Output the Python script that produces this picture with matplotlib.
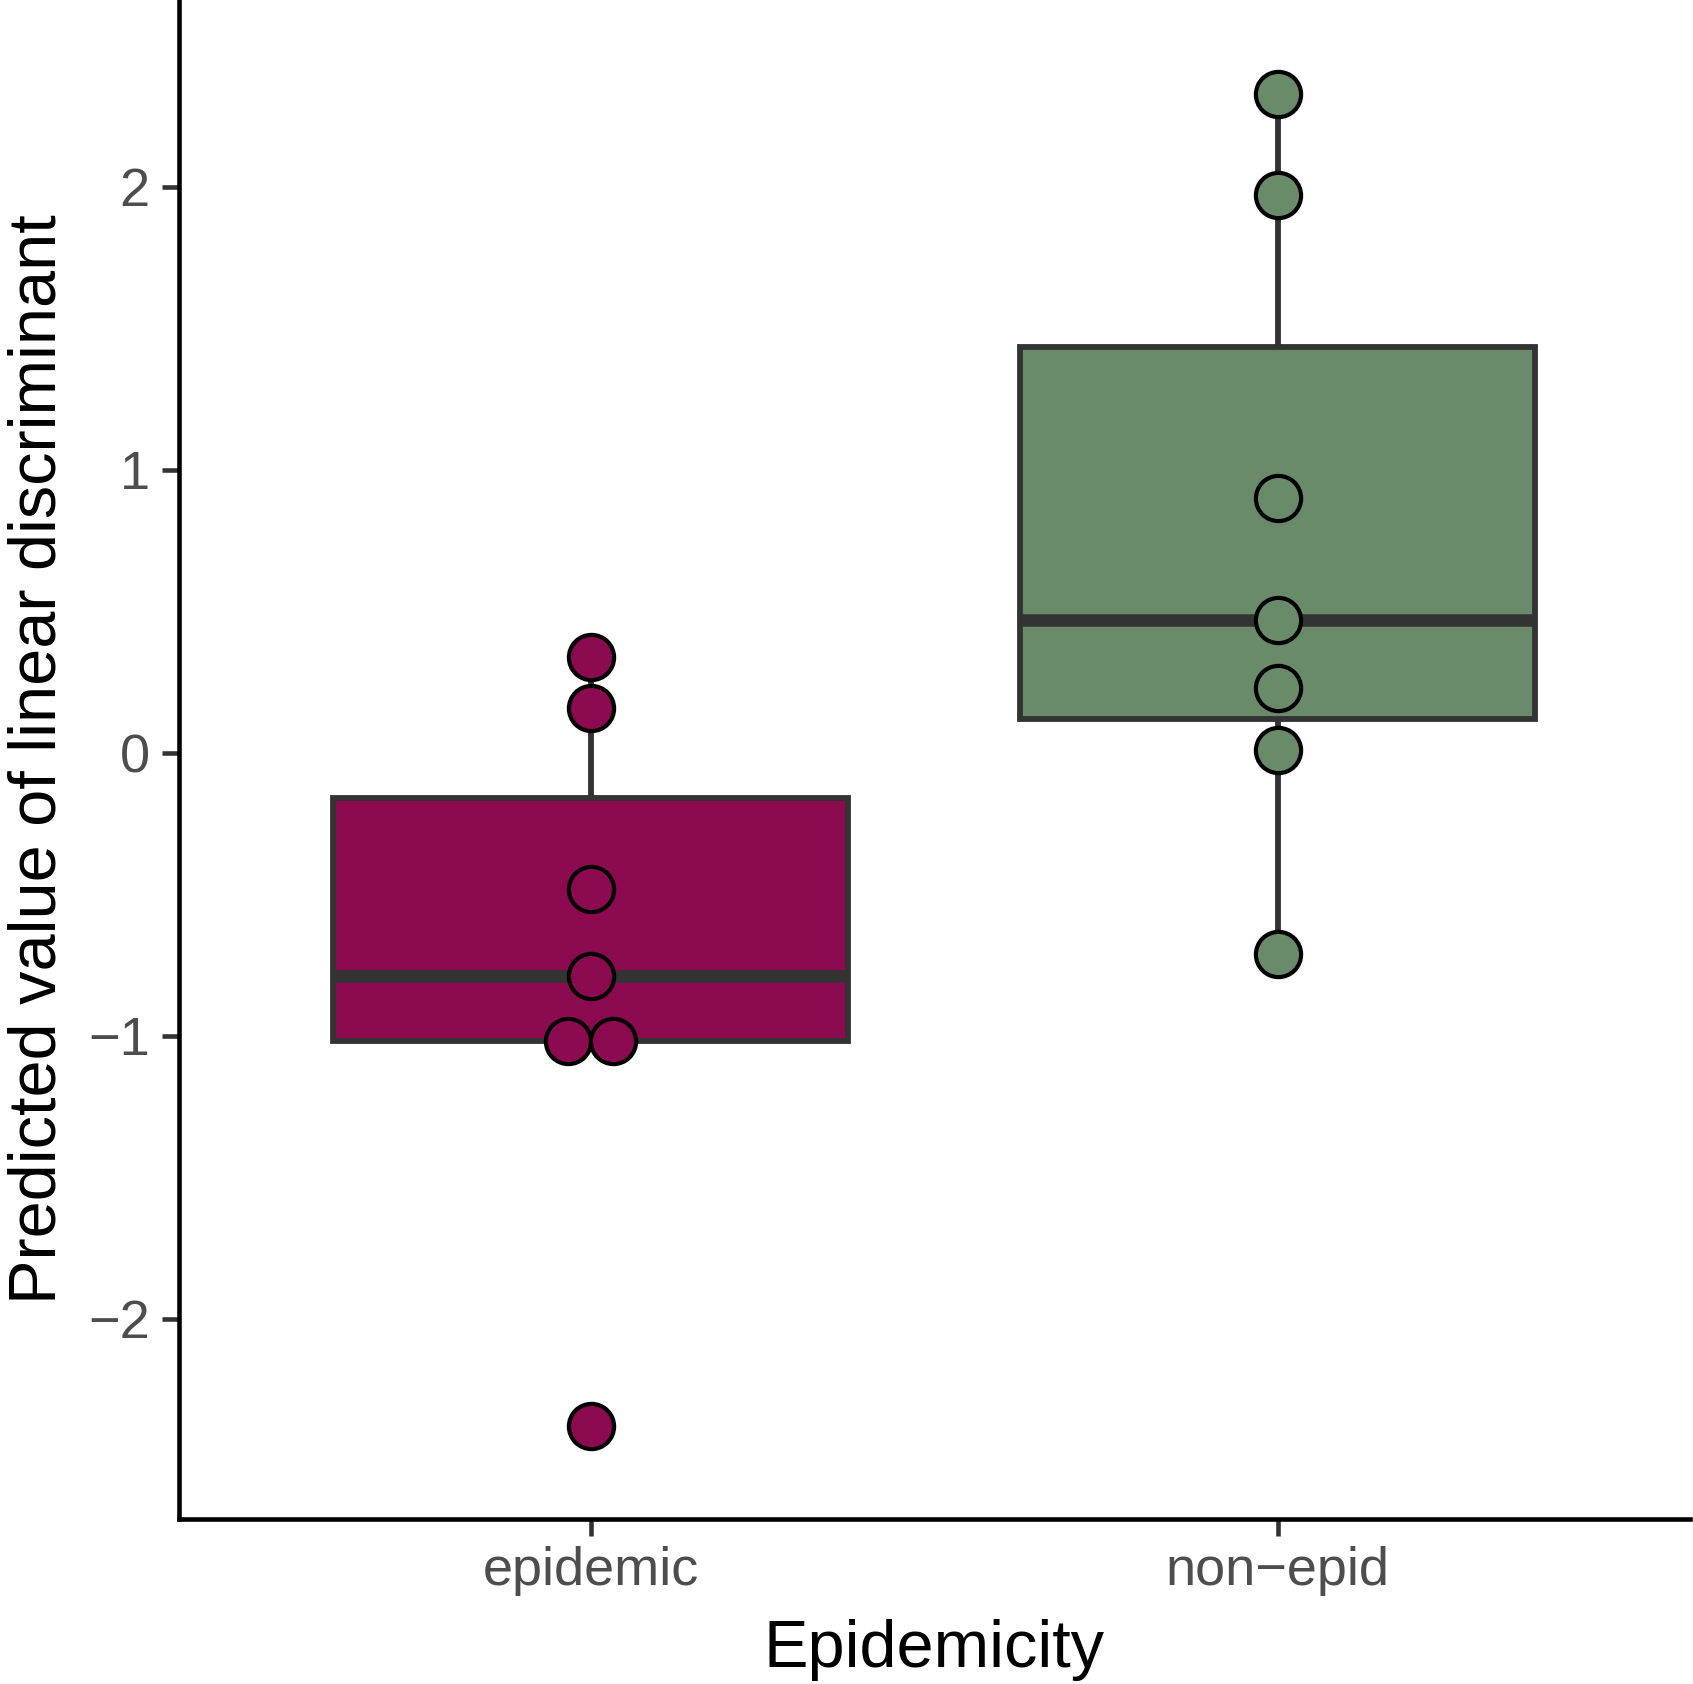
import matplotlib
matplotlib.use("Agg")
import matplotlib.pyplot as plt
import numpy as np

plt.rcParams['font.family'] = ['Liberation Sans', 'DejaVu Sans']

# data
groups = ["epidemic", "non\u2212epid"]
epidemic = [0.34, 0.16, -0.48, -0.79, -1.02, -1.02, -2.38]
non_epid = [2.33, 1.97, 0.90, 0.47, 0.23, 0.01, -0.71]
fills = ["#8B0A50", "#698B69"]
yticks = [-2, -1, 0, 1, 2]
ytick_labels = ["\u22122", "\u22121", "0", "1", "2"]

fig = plt.figure(figsize=(16.93, 16.84), dpi=100)
ax = fig.add_axes([0.1056, 0.0982, 0.8924, 0.9018])

pos = [1, 2]
bp = ax.boxplot([epidemic, non_epid], positions=pos, widths=0.75,
                patch_artist=True, showfliers=False, showcaps=False, whis=1.5)
for box, c in zip(bp['boxes'], fills):
    box.set_facecolor(c)
    box.set_edgecolor("#333333")
    box.set_linewidth(4.2)
    box.set_zorder(2)
for w in bp['whiskers']:
    w.set_color("#333333")
    w.set_linewidth(4.2)
    w.set_zorder(1)
for m in bp['medians']:
    m.set_color("#333333")
    m.set_linewidth(9)
    m.set_solid_capstyle('butt')
    m.set_zorder(3)

# dot stacks: equal values spread side by side, centred on the group
dot_w = 0.066
for p, vals, c in zip(pos, [epidemic, non_epid], fills):
    vals = np.array(vals)
    xs = np.zeros(len(vals))
    for v in np.unique(vals):
        idx = np.where(vals == v)[0]
        k = len(idx)
        xs[idx] = p + (np.arange(k) - (k - 1) / 2) * dot_w
    ax.scatter(xs, vals, s=1060, facecolor=c, edgecolor="black",
               linewidth=3, zorder=4)

ax.set_xlim(0.4, 2.6)
ax.set_ylim(-2.707, 2.661)
ax.set_xticks(pos)
ax.set_xticklabels(groups)
ax.set_yticks(yticks)
ax.set_yticklabels(ytick_labels)

for s in ['top', 'right']:
    ax.spines[s].set_visible(False)
for s in ['left', 'bottom']:
    ax.spines[s].set_linewidth(3.3)
    ax.spines[s].set_color("black")

ax.tick_params(axis='both', length=12, width=3.3, color="#333333",
               labelsize=39, labelcolor="#4D4D4D")
ax.tick_params(axis='x', pad=8)
ax.tick_params(axis='y', pad=9)

ax.set_xlabel("Epidemicity", fontsize=48, labelpad=16)
ax.set_ylabel("Predicted value of linear discriminant", fontsize=48, labelpad=13)

fig.savefig("out.png", dpi=100)
